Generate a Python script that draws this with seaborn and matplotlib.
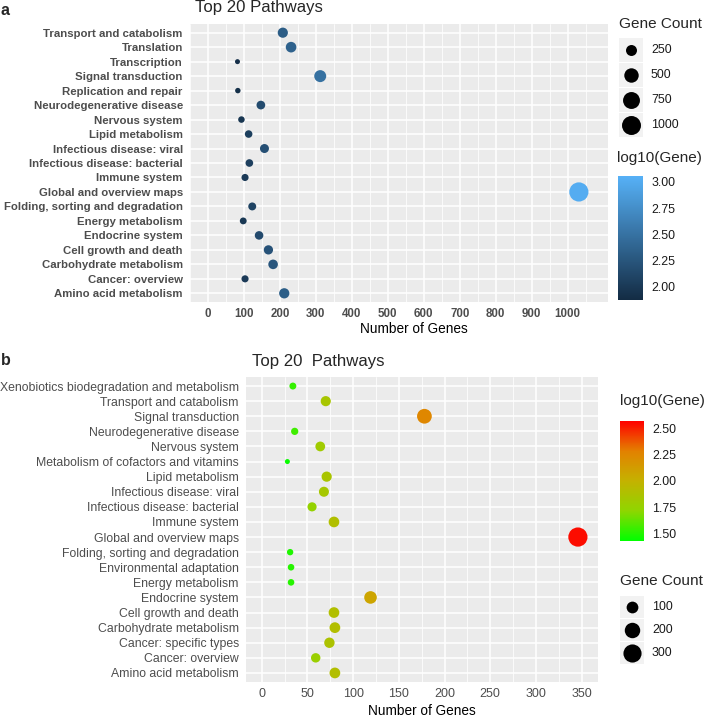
import numpy as np
import pandas as pd
import matplotlib
matplotlib.use("Agg")
import matplotlib.pyplot as plt
import matplotlib.patches as ptc
from matplotlib.colors import LinearSegmentedColormap, Normalize
from matplotlib.cm import ScalarMappable
from matplotlib.ticker import FormatStrFormatter
import seaborn as sns

W, H = 708, 718

# panel a
top_pathways = ["Transport and catabolism", "Translation", "Transcription", "Signal transduction",
                "Replication and repair", "Neurodegenerative disease", "Nervous system",
                "Lipid metabolism", "Infectious disease: viral", "Infectious disease: bacterial",
                "Immune system", "Global and overview maps", "Folding, sorting and degradation",
                "Energy metabolism", "Endocrine system", "Cell growth and death",
                "Carbohydrate metabolism", "Cancer: overview", "Amino acid metabolism"]
top_counts = [208, 231, 82, 312, 83, 147, 93, 113, 157, 115, 103, 1031, 123, 98, 142, 168, 181, 103, 212]
top_xticks = list(range(0, 1001, 100))
top_size_breaks = [250, 500, 750, 1000]
top_color_ticks = [2.00, 2.25, 2.50, 2.75, 3.00]
top_color_lim = (1.876, 3.057)

# panel b
bot_pathways = ["Xenobiotics biodegradation and metabolism", "Transport and catabolism",
                "Signal transduction", "Neurodegenerative disease", "Nervous system",
                "Metabolism of cofactors and vitamins", "Lipid metabolism", "Infectious disease: viral",
                "Infectious disease: bacterial", "Immune system", "Global and overview maps",
                "Folding, sorting and degradation", "Environmental adaptation", "Energy metabolism",
                "Endocrine system", "Cell growth and death", "Carbohydrate metabolism",
                "Cancer: specific types", "Cancer: overview", "Amino acid metabolism"]
bot_counts = [34, 70, 178, 36, 64, 28, 71, 68, 55, 79, 346, 31, 32, 32, 119, 79, 80, 74, 59, 80]
bot_xticks = list(range(0, 351, 50))
bot_size_breaks = [100, 200, 300]
bot_color_ticks = [1.50, 1.75, 2.00, 2.25, 2.50]
bot_color_lim = (1.427, 2.57)

blue_cmap = LinearSegmentedColormap.from_list("gg_blue", ["#132B43", "#56B1F7"])
gr_cmap = LinearSegmentedColormap.from_list(
    "green_red", [(0, "#00FF00"), (0.25, "#8FD600"), (0.5, "#C4B200"), (0.75, "#E38100"), (1, "#FF0000")])


def box(x0, y0, x1, y1):
    return [x0 / W, 1 - y1 / H, (x1 - x0) / W, (y1 - y0) / H]


def point_size(v, vmin, vmax):
    t = np.clip((float(v) - vmin) / (vmax - vmin), 0, None)
    d = 5 + 14.2 * np.sqrt(t)
    return (d * 0.72) ** 2


def draw_panel(ax, pathways, counts, cmap, clim, xlim, xticks, bold, yfs, xfs):
    df = pd.DataFrame({"pathway": pathways, "count": counts})
    df["log10"] = np.log10(df["count"])
    vmin, vmax = min(counts), max(counts)
    sizes = {c: point_size(c, vmin, vmax) for c in set(counts)}
    sns.scatterplot(data=df, x="count", y="pathway", hue="log10", palette=cmap, hue_norm=clim,
                    size="count", sizes=sizes, linewidth=0, legend=False, ax=ax, zorder=3)

    ax.set_facecolor("#EBEBEB")
    for s in ax.spines.values():
        s.set_visible(False)
    step = xticks[1] - xticks[0]
    ax.set_xticks(xticks)
    ax.set_xticks(np.arange(xticks[0] - step / 2, xlim[1], step), minor=True)
    ax.set_xlim(xlim)
    ax.set_ylim(len(pathways) - 0.4, -0.6)
    ax.grid(which="major", color="white", lw=1.1)
    ax.grid(which="minor", axis="x", color="white", lw=0.55)
    ax.set_axisbelow(True)
    ax.tick_params(which="major", length=3, width=0.8, color="#333333", labelcolor="#4D4D4D", pad=2.2)
    ax.tick_params(axis="x", which="major", pad=1.5, labelsize=xfs)
    ax.tick_params(axis="y", labelsize=yfs)
    ax.tick_params(which="minor", length=0)
    if bold:
        for lab in ax.get_yticklabels() + ax.get_xticklabels():
            lab.set_fontweight("bold")
    ax.set_ylabel("")
    ax.set_xlabel("Number of Genes", fontsize=9.8, color="black")


def draw_colorbar(fig, rect, cmap, clim, ticks, title, title_xy):
    cax = fig.add_axes(box(*rect))
    cb = fig.colorbar(ScalarMappable(Normalize(*clim), cmap), cax=cax, ticks=ticks)
    cb.outline.set_visible(False)
    cax.tick_params(direction="in", length=4.5, width=0.8, color="white", left=True, right=True,
                    labelsize=8.9, labelcolor="#1A1A1A", pad=6)
    cax.yaxis.set_major_formatter(FormatStrFormatter("%.2f"))
    fig.text(title_xy[0] / W, 1 - title_xy[1] / H, title, fontsize=11, va="baseline")


def draw_size_legend(fig, key_x, key_y, key_h, breaks, counts, title_y):
    vmin, vmax = min(counts), max(counts)
    x0, x1 = key_x - 2, key_x + 80
    y0, y1 = key_y - 2, key_y + key_h * len(breaks) + 2
    lax = fig.add_axes(box(x0, y0, x1, y1))
    lax.set_xlim(x0, x1)
    lax.set_ylim(y1, y0)
    lax.axis("off")
    for i, v in enumerate(breaks):
        top = key_y + i * key_h
        lax.add_patch(ptc.Rectangle((key_x, top + 0.5), 24, key_h - 1, fc="#F2F2F2", ec="none"))
        lax.scatter([key_x + 12], [top + key_h / 2], s=point_size(v, vmin, vmax), c="black",
                    lw=0, clip_on=False)
        lax.text(key_x + 32, top + key_h / 2, str(v), va="center", fontsize=8.9, color="#1A1A1A")
    fig.text(key_x / W, 1 - title_y / H, "Gene Count", fontsize=11.1, va="baseline")


sns.set_style("darkgrid")
plt.rcParams["font.family"] = ["Liberation Sans", "DejaVu Sans"]

fig = plt.figure(figsize=(W / 100, H / 100), dpi=100)

ax1 = fig.add_axes(box(190, 24, 608, 302))
draw_panel(ax1, top_pathways, top_counts, blue_cmap, top_color_lim, (-50, 1112), top_xticks,
           True, 8.2, 8.3)
ax1.xaxis.set_label_coords((414 - 190) / 418, -(322 - 302) / 278)
fig.text(195 / W, 1 - 12 / H, "Top 20 Pathways", fontsize=12.1, va="baseline")
fig.text(0.5 / W, 1 - 15 / H, "a", fontsize=11.5, fontweight="bold", va="baseline")
draw_size_legend(fig, 619, 38, 24.75, top_size_breaks, top_counts, 28)
draw_colorbar(fig, (618, 176, 643, 300), blue_cmap, top_color_lim, top_color_ticks, "log10(Gene)", (617, 162))

ax2 = fig.add_axes(box(246, 377, 598, 682))
draw_panel(ax2, bot_pathways, bot_counts, gr_cmap, bot_color_lim, (-17.3, 368), bot_xticks,
           False, 8.8, 9.0)
ax2.xaxis.set_label_coords(0.5, -(704 - 682) / 305)
fig.text(252 / W, 1 - 366 / H, "Top 20  Pathways", fontsize=12.1, va="baseline")
fig.text(0.5 / W, 1 - 365 / H, "b", fontsize=11.5, fontweight="bold", va="baseline")
draw_colorbar(fig, (620, 421, 644, 541), gr_cmap, bot_color_lim, bot_color_ticks, "log10(Gene)", (620, 405))
draw_size_legend(fig, 620, 595, 23.3, bot_size_breaks, bot_counts, 585)

fig.savefig("out.png", dpi=100, facecolor="white")
